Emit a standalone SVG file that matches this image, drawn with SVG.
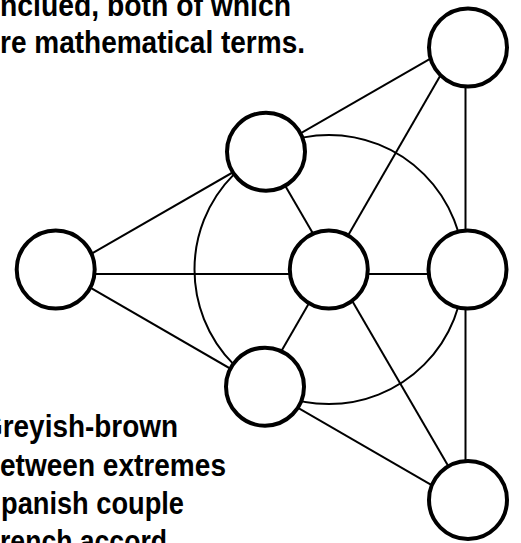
<svg xmlns="http://www.w3.org/2000/svg" width="521" height="543" viewBox="0 0 521 543">
  <style>
    .edge { stroke: #000; stroke-width: 2; fill: none; }
    .node { fill: #fff; stroke: #000; stroke-width: 4; }
    .txt { font-family: "Liberation Sans", Arial, sans-serif; font-weight: bold; font-size: 31px; fill: #000; }
  </style>
  <rect width="521" height="543" fill="#fff"/>
  <g id="connectors">
    <line class="edge" x1="450" y1="47.3" x2="70" y2="266.1"/>
    <line class="edge" x1="70" y1="275.8" x2="455" y2="498.7"/>
    <line class="edge" x1="465.5" y1="47.5" x2="465.5" y2="500"/>
    <line class="edge" x1="55.7" y1="274" x2="467.5" y2="274"/>
    <line class="edge" x1="452.2" y1="55" x2="260.8" y2="386.7"/>
    <line class="edge" x1="265.4" y1="151.7" x2="468" y2="500"/>
    <circle class="edge" cx="329" cy="269.5" r="134.5"/>
  </g>
  <g id="node-top-right"><circle class="node" cx="468" cy="47.5" r="39"/></g>
  <g id="node-left"><circle class="node" cx="55.7" cy="269.5" r="39"/></g>
  <g id="node-bottom-right"><circle class="node" cx="468" cy="500" r="39"/></g>
  <g id="node-upper"><circle class="node" cx="266" cy="151.7" r="39"/></g>
  <g id="node-lower"><circle class="node" cx="265" cy="386.7" r="39"/></g>
  <g id="node-center"><circle class="node" cx="328.8" cy="269.5" r="39"/></g>
  <g id="node-right"><circle class="node" cx="467.5" cy="269.5" r="39"/></g>
  <g id="text-top">
    <text class="txt" x="0" y="15.7" textLength="291" lengthAdjust="spacingAndGlyphs">nclued, both of which</text>
    <text class="txt" x="0" y="53" textLength="305" lengthAdjust="spacingAndGlyphs">re mathematical terms.</text>
  </g>
  <g id="text-bottom">
    <text class="txt" x="-19" y="437" textLength="197" lengthAdjust="spacingAndGlyphs">Greyish-brown</text>
    <text class="txt" x="0" y="475.5" textLength="226" lengthAdjust="spacingAndGlyphs">etween extremes</text>
    <text class="txt" x="1" y="513.5" textLength="183" lengthAdjust="spacingAndGlyphs">panish couple</text>
    <text class="txt" x="0" y="551.5" textLength="167" lengthAdjust="spacingAndGlyphs">rench accord</text>
  </g>
</svg>
